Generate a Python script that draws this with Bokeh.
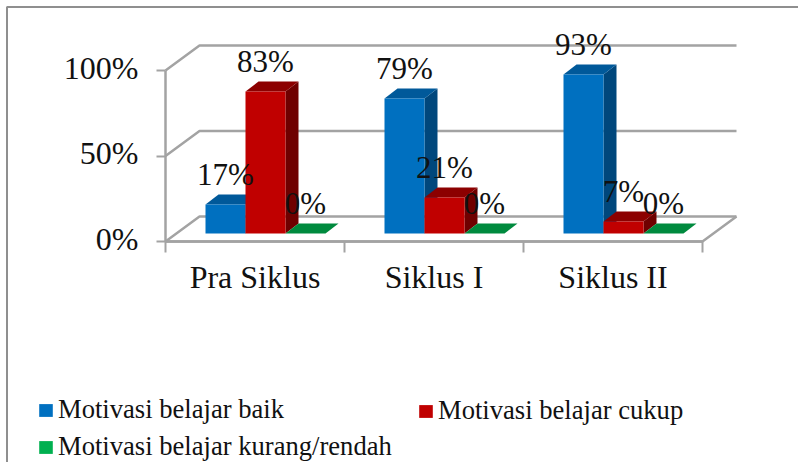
from bokeh.plotting import figure
from bokeh.models import Range1d, LinearAxis, FixedTicker, Legend, LegendItem
from bokeh.core.properties import value
from bokeh.embed import file_html
from bokeh.resources import INLINE

categories = ["Pra Siklus", "Siklus I", "Siklus II"]
series_names = ["Motivasi belajar baik", "Motivasi belajar cukup", "Motivasi belajar kurang/rendah"]
baik = [17, 79, 93]
cukup = [83, 21, 7]
kurang = [0, 0, 0]
y_ticks = [0, 50, 100]

front = ["#0070c0", "#c00000", "#00b050"]
top = ["#00599a", "#8c0000", "#008a3e"]
side = ["#00477c", "#6f0000", "#006e30"]
GRID = "#a3a3a3"
FONT = "Liberation Serif"
INK = "#111111"

W, H = 798, 462
L, B = 165, 241       # pixel position of the value axis and the category axis
PX_X = (702 - 165) / 3
PX_Y = (241 - 70) / 100

x_range = Range1d(-L / PX_X, (W - L) / PX_X)
y_range = Range1d((B - H) / PX_Y, B / PX_Y)

p = figure(width=W, height=H, output_backend="svg", toolbar_location=None,
           x_range=x_range, y_range=y_range, x_axis_type=None, y_axis_type=None,
           min_border=0)
p.outline_line_color = None
p.grid.visible = False
p.background_fill_color = "white"
p.border_fill_color = "white"

# depth of the box and of the bars, in data units
DX, DY = 34 / PX_X, 25 / PX_Y
BDX, BDY = 13 / PX_X, 10 / PX_Y
BASE = 8 / PX_Y
BAR = 40 / PX_X
START = 40 / PX_X

# picture frame (top and left edges are the only ones visible)
p.line([x_range.start + 6.5 / PX_X, x_range.start + 6.5 / PX_X, x_range.end],
       [y_range.start, y_range.end - 6.5 / PX_Y, y_range.end - 6.5 / PX_Y],
       line_color="#8f8f8f", line_width=2)

# back wall, floor and the value axis line
xs, ys = [], []
for t in y_ticks:
    xs.append([0, DX, 3 + DX]); ys.append([t, t + DY, t + DY])
xs.append([0, 3, 3 + DX]); ys.append([0, 0, DY])
xs.append([0, 0]); ys.append([y_ticks[0], y_ticks[-1]])
p.multi_line(xs, ys, line_color=GRID, line_width=2.5)

series = [baik, cukup, kurang]
legend_r = []
for s, vals in enumerate(series):
    legend_r.append(p.quad(left=[0], right=[0], bottom=[0], top=[0], fill_color=front[s], line_color=None))

for g in range(len(categories)):
    for s, vals in enumerate(series):
        x0 = g + START + s * BAR
        x1 = x0 + BAR
        h = BASE + vals[g]
        p.patch([x1, x1 + BDX, x1 + BDX, x1], [BASE, BASE + BDY, h + BDY, h], fill_color=side[s], line_color=None)
        p.patch([x0, x1, x1 + BDX, x0 + BDX], [h, h, h + BDY, h + BDY], fill_color=top[s], line_color=None)
        p.quad(left=[x0], right=[x1], bottom=[BASE], top=[h], fill_color=front[s], line_color=None)

for g in range(len(categories)):
    for s, vals in enumerate(series):
        x = g + START + (s + 0.5) * BAR
        p.text([x], [BASE + vals[g]], text=[f"{vals[g]}%"], text_font=value(FONT), text_font_size="31px",
               text_color=INK, text_align="center", text_baseline="middle", x_offset=0, y_offset=-30)

# tick labels sit 3px above their ticks in the reference
LIFT = 3 / PX_Y
yaxis = LinearAxis(ticker=FixedTicker(ticks=[t + LIFT for t in y_ticks], minor_ticks=y_ticks), fixed_location=0,
                   major_label_overrides={t + LIFT: f"{t}%" for t in y_ticks})
yaxis.axis_line_color = None
yaxis.major_tick_line_color = None
yaxis.major_tick_in = 0; yaxis.major_tick_out = 9
yaxis.minor_tick_line_color = GRID; yaxis.minor_tick_line_width = 2
yaxis.minor_tick_in = 0; yaxis.minor_tick_out = 9
yaxis.major_label_text_font = FONT; yaxis.major_label_text_font_size = "32px"
yaxis.major_label_text_color = INK; yaxis.major_label_standoff = 18
p.add_layout(yaxis, "left")

xaxis = LinearAxis(ticker=FixedTicker(ticks=[0.5, 1.5, 2.5], minor_ticks=[0, 1, 2, 3]), bounds=(0, 3), fixed_location=0,
                   major_label_overrides={i + 0.5: c for i, c in enumerate(categories)})
xaxis.axis_line_color = GRID; xaxis.axis_line_width = 2.5
xaxis.major_tick_line_color = None
xaxis.minor_tick_line_color = GRID; xaxis.minor_tick_line_width = 2
xaxis.minor_tick_in = 0; xaxis.minor_tick_out = 11
xaxis.major_label_text_font = FONT; xaxis.major_label_text_font_size = "32px"
xaxis.major_label_text_color = INK; xaxis.major_label_standoff = 6
p.add_layout(xaxis, "below")

common = dict(background_fill_alpha=0, border_line_color=None, margin=0, padding=0,
              glyph_width=17, glyph_height=16, label_text_font=FONT, label_text_font_size="26.6px",
              label_text_color=INK, spacing=6, label_standoff=4, label_height=30, label_text_baseline="middle")
legend1 = Legend(items=[LegendItem(label=series_names[0], renderers=[legend_r[0]]),
                        LegendItem(label=series_names[2], renderers=[legend_r[2]])],
                 location=(37, 0), **common)
legend2 = Legend(items=[LegendItem(label=series_names[1], renderers=[legend_r[1]])],
                 location=(417, 36), **common)
p.add_layout(legend1, "center")
p.add_layout(legend2, "center")

open("out.html", "w").write(file_html(p, INLINE))
